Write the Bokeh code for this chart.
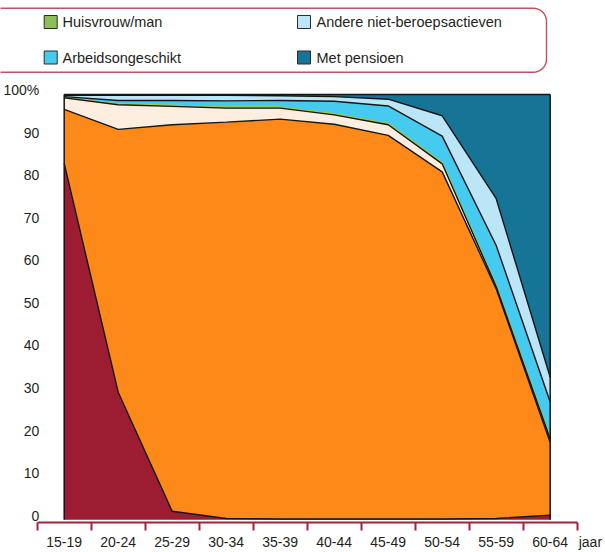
import numpy as np
from bokeh.plotting import figure
from bokeh.models import Range1d, FixedTicker, Label
from bokeh.embed import file_html
from bokeh.resources import INLINE

# ---------------- data ----------------
categories = ["15-19", "20-24", "25-29", "30-34", "35-39",
              "40-44", "45-49", "50-54", "55-59", "60-64"]
onderwijs = [83.8, 30.0, 2.0, 0.3, 0.2, 0.2, 0.2, 0.2, 0.3, 1.1]
werkend = [12.7, 61.8, 90.9, 93.2, 94.0, 92.8, 90.2, 81.6, 54.0, 17.1]
werkloos = [2.7, 5.8, 4.3, 3.3, 2.6, 2.2, 2.5, 1.9, 0.5, 0.8]
huisvrouw_man = [0.1, 0.2, 0.3, 0.3, 0.3, 0.3, 0.3, 0.3, 0.3, 0.4]
arbeidsongeschikt = [0.2, 0.8, 1.1, 1.4, 1.5, 2.9, 4.1, 6.2, 9.4, 8.3]
andere_niet_beroepsactieven = [0.3, 1.2, 1.2, 1.3, 1.1, 1.1, 1.6, 4.8, 11.0, 5.8]
met_pensioen = [0.2, 0.2, 0.2, 0.2, 0.3, 0.5, 1.1, 5.0, 24.5, 66.5]

y_ticks = [0, 10, 20, 30, 40, 50, 60, 70, 80, 90, 100]
y_tick_labels = ["0", "10", "20", "30", "40", "50", "60", "70", "80", "90", "100%"]
x_unit_label = "jaar"

legend_names = ["Huisvrouw/man", "Andere niet-beroepsactieven",
                "Arbeidsongeschikt", "Met pensioen"]

# colours (bottom -> top)
C_RED = "#9C1D32"
C_ORANGE = "#FD8A18"
C_CREAM = "#FEEEDF"
C_GREEN = "#8CBF57"
C_BBLUE = "#45CBEF"
C_LBLUE = "#BAE6F8"
C_TEAL = "#167497"
legend_colors = [C_GREEN, C_LBLUE, C_BBLUE, C_TEAL]

FONT = "Liberation Sans"
TXT = "#231F20"
AXIS_RED = "#A3213A"

# ---------------- geometry (screen pixels) ----------------
W, H = 605, 552
X_LEFT_PX = 36.7      # where the category axis starts
CAT_PX = 54.0         # width of one category
Y0_PX = 519.3         # screen row of 0 %
PX_PER_PCT = 4.253    # pixels per percentage point
AXIS_PX = 521.7       # screen row of the axis line
YLABEL_RAISE_PX = 4.2 # value labels sit slightly above their level

ncat = len(categories)
x_start = -X_LEFT_PX / CAT_PX
x_end = (W - X_LEFT_PX) / CAT_PX
y_start = (Y0_PX - H) / PX_PER_PCT
y_end = Y0_PX / PX_PER_PCT

p = figure(width=W, height=H, x_range=Range1d(x_start, x_end), y_range=Range1d(y_start, y_end),
           toolbar_location=None, output_backend="svg", min_border=0)
p.grid.visible = False
p.outline_line_color = None
p.background_fill_color = "white"
p.border_fill_color = "white"
p.extra_x_ranges = {"px": Range1d(0, W)}
p.extra_y_ranges = {"px": Range1d(H, 0)}

# ---------------- stacked areas ----------------
layers = [onderwijs, werkend, werkloos, huisvrouw_man, arbeidsongeschikt,
          andere_niet_beroepsactieven, met_pensioen]
fills = [C_RED, C_ORANGE, C_CREAM, C_GREEN, C_BBLUE, C_LBLUE, C_TEAL]
edge = ["#151515", "#151515", "#151515", "#A9C53F", "#151515", "#151515", "#151515"]

xs = np.arange(ncat) + 0.5
cum = np.cumsum(np.array(layers, dtype=float), axis=0)
zeros = np.zeros(ncat)
for i in range(len(layers)):
    top = cum[i]
    bot = cum[i - 1] if i > 0 else zeros
    p.patch(np.concatenate([xs, xs[::-1]]), np.concatenate([top, bot[::-1]]),
            fill_color=fills[i], line_color=None)
order = [3] + [i for i in range(len(layers)) if i != 3]
for i in order:
    p.line(xs, cum[i], line_color=edge[i], line_width=1.4)
p.segment(x0=[xs[0], xs[-1]], y0=[0, 0], x1=[xs[0], xs[-1]], y1=[cum[-1][0], cum[-1][-1]],
          line_color="#151515", line_width=1.5)

# ---------------- x axis ----------------
xa = p.xaxis[0]
xa.fixed_location = (Y0_PX - AXIS_PX) / PX_PER_PCT
xa.bounds = (0, ncat)
xa.ticker = FixedTicker(ticks=list(xs), minor_ticks=list(range(ncat + 1)))
xa.major_label_overrides = {float(x): c for x, c in zip(xs, categories)}
xa.axis_line_color = AXIS_RED
xa.axis_line_width = 2
xa.major_tick_line_color = None
xa.major_tick_out = 0
xa.major_tick_in = 0
xa.minor_tick_line_color = AXIS_RED
xa.minor_tick_line_width = 2
xa.minor_tick_out = 8
xa.minor_tick_in = 0
xa.major_label_standoff = 7
xa.major_label_text_font = FONT
xa.major_label_text_font_size = "14px"
xa.major_label_text_color = TXT

# ---------------- y axis ----------------
raise_u = YLABEL_RAISE_PX / PX_PER_PCT
y_label_pos = [t + raise_u for t in y_ticks]
ya = p.yaxis[0]
ya.fixed_location = 0
ya.bounds = (0, 100 + raise_u)
ya.ticker = FixedTicker(ticks=y_label_pos)
ya.major_label_overrides = {float(t): l for t, l in zip(y_label_pos, y_tick_labels)}
ya.axis_line_color = None
ya.major_tick_line_color = None
ya.minor_tick_line_color = None
ya.major_tick_out = 0
ya.major_tick_in = 0
ya.major_label_standoff = -2
ya.major_label_text_font = FONT
ya.major_label_text_font_size = "14px"
ya.major_label_text_color = TXT

p.add_layout(Label(x=ncat + 1.5 / CAT_PX, y=(Y0_PX - 541) / PX_PER_PCT, text=x_unit_label,
                   text_font=FONT, text_font_size="14px", text_color=TXT,
                   text_baseline="middle", text_align="left"))

# ---------------- legend (screen-pixel coordinates) ----------------
def rounded_rect(l, r, t, b, rad, n=10):
    rx, ry = [], []
    corners = [(r - rad, t + rad, -90, 0), (r - rad, b - rad, 0, 90),
               (l + rad, b - rad, 90, 180), (l + rad, t + rad, 180, 270)]
    for cx, cy, a0, a1 in corners:
        for a in np.linspace(np.radians(a0), np.radians(a1), n):
            rx.append(cx + rad * np.cos(a))
            ry.append(cy + rad * np.sin(a))
    return rx, ry


bx, by = rounded_rect(-30, 546, 7.8, 71.7, 13)
p.patch(bx, by, fill_color=None, line_color="#C4505C", line_width=1.4,
        x_range_name="px", y_range_name="px")

col_sw = [50.2, 303.5]
col_tx = [62, 316]
row_y = [21.5, 57.0]
sw_x, sw_y, tx_x, tx_y = [], [], [], []
for k in range(len(legend_names)):
    c, r = k % 2, k // 2
    sw_x.append(col_sw[c]); sw_y.append(row_y[r])
    tx_x.append(col_tx[c]); tx_y.append(row_y[r])
p.rect(x=sw_x, y=sw_y, width=13, height=13, fill_color=legend_colors,
       line_color="#2b2b2b", line_width=1, x_range_name="px", y_range_name="px")
p.text(x=tx_x, y=tx_y, text=legend_names, text_font={"value": FONT},
       text_font_size="14.5px", text_color=TXT, text_baseline="middle", text_align="left",
       x_range_name="px", y_range_name="px")

open("out.html", "w").write(file_html(p, INLINE))
